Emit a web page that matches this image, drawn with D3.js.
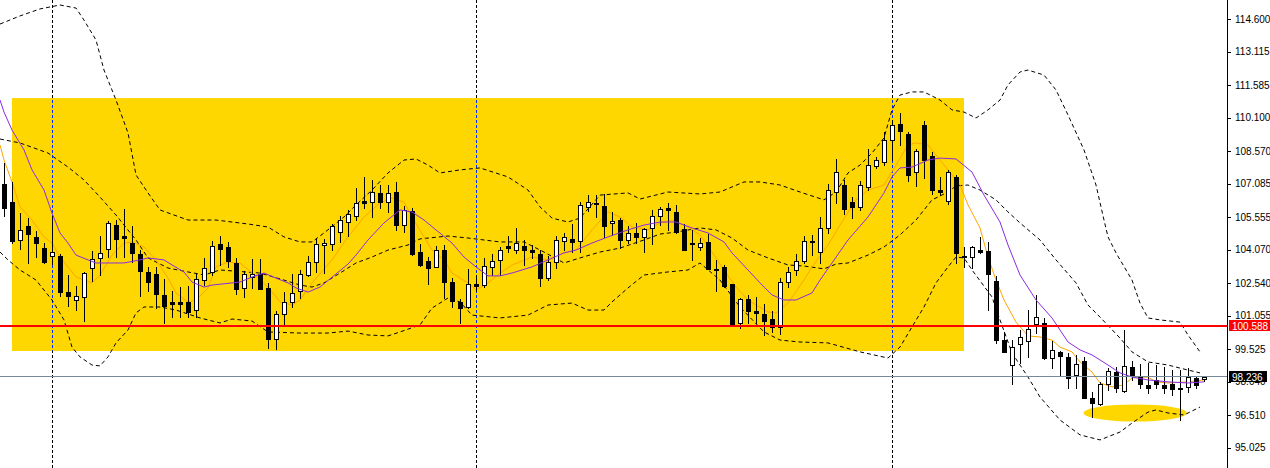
<!DOCTYPE html>
<html><head><meta charset="utf-8">
<script src="https://cdn.jsdelivr.net/npm/d3@7"></script>
<style>html,body{margin:0;padding:0;background:#fff;overflow:hidden}</style>
</head><body><svg id="c" width="1270" height="468"></svg>
<script>
// ---- candle data (index 0..150) ----
const openP = [107.07,106.24,104.51,105.15,104.65,104.14,103.78,103.78,102.13,101.77,
101.91,103.23,103.69,104.10,105.19,104.69,104.37,103.87,103.05,102.96,
102.00,101.68,101.68,101.68,101.31,102.68,103.05,104.33,104.19,103.46,
102.32,102.82,102.96,102.32,99.99,101.13,101.68,102.18,102.91,103.50,
104.28,104.33,104.87,105.33,105.60,106.29,106.24,106.66,106.24,106.70,
105.19,105.83,103.96,103.55,103.28,104.05,102.59,101.68,101.45,102.50,
102.45,103.28,103.60,104.24,104.05,104.24,104.05,103.87,102.77,103.50,
104.46,104.56,104.46,106.02,106.20,106.06,105.29,105.42,104.51,104.83,
104.65,105.06,105.60,105.97,105.79,105.01,104.37,104.19,104.42,103.19,
103.28,102.50,100.72,101.81,101.27,101.13,100.90,100.54,102.59,103.14,
103.55,104.46,103.96,105.06,106.70,107.02,106.24,106.02,106.93,107.89,
108.07,109.08,109.81,109.35,107.61,109.76,108.34,106.79,106.29,107.39,
103.78,103.73,104.05,104.01,102.64,99.94,98.80,99.76,99.90,100.67,
100.72,99.12,99.40,99.17,98.35,98.98,97.29,97.02,97.93,98.48,
97.61,98.71,98.25,97.89,98.12,97.89,97.93,97.75,97.80,98.21,
98.16];
const highP = [108.03,107.16,105.74,105.51,104.92,104.37,105.60,103.87,102.91,102.41,
103.05,104.01,104.69,105.38,105.42,105.92,105.15,104.05,103.28,103.28,
102.73,102.18,102.36,102.41,103.00,103.69,104.46,104.69,104.42,103.69,
103.09,103.64,103.64,102.55,101.27,102.13,102.96,103.14,103.78,104.56,
104.56,105.24,105.60,105.88,106.88,107.39,107.25,107.02,107.02,107.16,
106.06,105.97,104.33,103.73,104.24,104.28,102.77,101.81,103.19,102.91,
103.69,103.87,104.19,104.69,105.06,104.51,104.28,104.05,103.78,104.69,
104.83,105.24,106.24,106.56,106.56,106.61,105.79,105.51,105.15,105.29,
105.06,105.88,106.02,106.20,106.11,105.24,104.97,104.60,104.78,103.60,
103.37,102.50,101.86,102.00,101.91,101.59,101.27,102.77,103.28,103.87,
104.69,104.74,105.56,107.07,108.21,107.25,106.47,107.20,108.66,108.30,
109.44,109.99,110.31,109.44,108.66,109.94,108.53,107.39,107.71,107.48,
104.19,104.24,104.65,104.42,102.87,100.31,99.94,100.40,101.31,102.00,
100.95,99.90,99.44,99.35,99.26,99.17,97.57,98.03,98.66,98.71,
100.40,98.98,98.85,98.89,98.80,98.71,98.57,98.57,98.66,98.25,
98.25];
const lowP = [105.60,104.37,104.10,103.46,103.73,103.46,103.41,101.95,101.50,101.31,
100.81,102.64,102.91,103.73,103.73,103.73,103.50,101.95,102.18,101.40,
100.72,100.99,100.99,100.99,100.99,102.45,102.91,103.37,103.28,102.04,
101.91,102.32,102.27,99.58,99.53,100.63,101.45,101.86,102.87,103.05,
103.00,104.05,104.42,104.69,105.42,105.97,105.56,105.97,105.79,104.97,
104.87,103.82,103.32,102.50,103.28,101.86,101.45,100.72,101.40,102.18,
102.36,102.91,102.91,103.96,103.92,103.37,103.69,102.41,102.68,103.23,
104.05,103.96,103.96,105.83,105.56,104.65,104.74,104.14,104.37,104.37,
103.96,104.33,105.19,104.97,104.83,104.05,103.60,104.05,103.19,102.18,
102.36,100.67,100.49,100.72,100.72,100.17,100.31,100.22,102.36,102.91,
103.46,103.82,103.46,104.83,106.20,105.70,105.51,105.88,106.79,107.80,
107.93,108.16,108.85,107.20,106.98,107.34,106.61,106.56,106.15,103.46,
103.28,103.23,103.92,101.31,99.81,99.40,97.93,98.89,99.17,100.26,
99.08,98.66,98.35,97.75,97.75,97.29,96.43,96.97,97.66,97.57,
97.57,98.12,97.75,97.52,97.75,97.52,97.43,96.29,97.57,97.75,
98.07];
const closeP = [105.97,104.46,104.97,104.78,104.37,103.50,103.96,102.13,101.95,101.95,
103.00,103.64,103.92,105.29,104.56,104.60,103.92,103.09,102.59,102.04,
101.50,101.59,101.59,101.22,102.73,103.23,104.24,104.10,103.55,102.27,
102.96,102.96,102.27,99.99,101.13,101.68,102.09,102.96,103.50,104.33,
104.37,105.15,105.42,105.70,106.20,106.20,106.70,106.24,106.66,105.19,
105.88,103.87,103.37,103.23,104.05,102.59,101.72,101.40,102.50,102.41,
103.32,103.55,104.05,104.14,104.37,104.05,103.96,102.77,103.50,104.51,
104.65,104.42,106.11,106.24,106.15,105.15,105.38,104.51,104.83,104.65,
105.01,105.60,105.92,105.88,104.87,104.05,104.33,104.37,103.19,103.14,
102.41,100.67,101.81,101.27,101.18,100.81,100.54,102.59,103.05,103.55,
104.46,104.42,105.06,106.79,107.61,105.92,106.02,107.02,107.93,108.16,
109.08,109.76,109.49,107.48,108.57,108.16,106.79,106.70,107.61,103.92,
103.73,104.19,103.96,102.96,99.94,99.40,99.62,100.08,100.45,100.99,
99.12,99.49,99.21,98.21,98.85,97.29,97.07,97.93,98.53,97.75,
98.76,98.35,97.93,97.75,97.93,97.75,97.71,97.71,98.25,97.89,
98.24];

// ---- indicator lines, [bar index, price] ----
const bbUpper = [[-0.5,114.37],[2,114.74],[4.5,115.06],[7,115.24],[9,115.10],[10,114.55],[11.5,113.64],[12.5,112.27],[14,110.90],[15.5,109.40],[16.5,107.48],[18,106.66],[19.5,105.88],[23,105.42],[26.5,105.42],[30.5,105.24],[33,105.10],[35,104.65],[37,104.42],[38.5,104.42],[40,104.83],[42.5,105.56],[44,106.11],[46,106.79],[48,107.57],[50,108.16],[51.5,108.21],[53,107.93],[54.5,107.57],[57,107.71],[59.5,107.80],[63,107.39],[65.5,106.79],[67,106.02],[68.5,105.51],[70.5,105.33],[72,105.51],[74.5,106.56],[78,106.66],[79.5,106.38],[83,106.70],[87,106.61],[89.5,106.70],[92.5,107.16],[94.5,107.16],[97,107.02],[99.5,106.70],[102.5,106.34],[104,106.70],[105.5,107.57],[107,107.93],[108.5,108.48],[110,109.17],[111,110.45],[112,111.13],[113.5,111.27],[115,111.27],[117,110.90],[118.5,110.45],[120,110.35],[121.5,110.08],[123,110.45],[124.5,110.90],[125.5,111.59],[127,112.18],[128,112.27],[130,112.04],[131.5,111.36],[133,110.22],[135,108.62],[136.5,107.02],[137.5,105.42],[138,104.65],[139,103.92],[141,102.68],[142,101.63],[143,100.95],[144.5,100.86],[147,100.76],[148,100.17],[149.5,99.40]];
const bbMiddle = [[-0.5,109.12],[2,108.94],[5.5,108.48],[8,107.84],[10,107.25],[12,106.47],[14,105.65],[16.5,104.51],[18,103.69],[20.5,103.23],[23,103.05],[25,102.91],[27,103.14],[32,103.00],[35,102.68],[37,102.45],[38.5,102.36],[40,102.55],[42,103.00],[44,103.46],[46,103.73],[48,104.05],[50.5,104.28],[52,104.56],[55.5,104.69],[58,104.60],[62,104.42],[65,104.42],[67.5,103.96],[70,103.46],[72,103.69],[74.5,103.96],[77,104.14],[80,104.51],[82,104.78],[84,104.87],[87,105.06],[89,104.97],[91,104.60],[93,104.05],[95.5,103.69],[98,103.37],[100,103.32],[102.5,103.19],[104,103.41],[105.5,103.46],[108,103.82],[110,104.19],[112,104.74],[114,105.42],[116,106.34],[118,106.70],[119,106.98],[120.5,107.02],[122,106.79],[124,106.34],[125.5,105.79],[127,105.29],[129.5,104.51],[131.5,103.60],[134,102.55],[135.5,101.54],[137,100.99],[139.5,100.03],[141,99.40],[143,98.94],[145.5,98.80],[147,98.66],[149.5,98.44]];
const bbLower = [[-0.5,103.96],[0.5,103.60],[2,103.14],[4,102.68],[6,101.77],[7.5,100.86],[8.5,99.62],[9.5,99.17],[11,98.80],[12,98.76],[13,99.17],[14,99.81],[15.5,100.40],[16.5,101.18],[17.5,101.45],[19.5,101.45],[21.5,101.31],[24.5,100.95],[27,100.72],[28.5,100.90],[31,100.81],[33,100.31],[37,100.26],[40.5,100.26],[43,100.35],[45.5,100.17],[48,100.13],[49.5,100.31],[52,100.63],[53.5,101.40],[55.5,101.86],[57,101.68],[58.5,101.08],[62,100.95],[65.5,101.08],[68,101.54],[71,101.63],[73,101.31],[75,101.31],[76,101.68],[78,102.32],[80,102.91],[83,103.05],[85.5,103.14],[87,103.46],[89.5,102.68],[92,101.45],[95,100.31],[97,99.94],[99.5,99.85],[103,99.81],[107,99.40],[110.5,99.12],[112,99.62],[113.5,100.54],[115,101.45],[116.5,102.55],[118,103.28],[119,103.73],[120,103.69],[121,103.14],[123.5,101.91],[124.5,100.86],[126,99.35],[128,98.25],[129.5,97.34],[132,96.29],[134.5,95.61],[137,95.38],[139.5,95.74],[141,96.15],[143,96.65],[144,96.75],[145.5,96.61],[147.5,96.52],[149.5,96.88]];
const maFast = [[-0.5,108.85],[0,108.16],[1,107.16],[2,106.02],[3.5,105.42],[5,104.65],[6,104.37],[7,103.73],[8,103.28],[9,102.82],[11,102.55],[12,102.91],[13.5,103.82],[15,104.37],[16,104.42],[17.5,104.19],[19,103.60],[20.5,102.77],[21.5,102.09],[23,101.68],[24,101.77],[25.5,102.32],[26.5,103.28],[28,103.50],[29.5,103.46],[31,103.00],[33,102.36],[34.5,101.68],[36,101.54],[37,101.77],[38.5,102.55],[41,103.60],[43,104.65],[45,105.56],[47,106.20],[48.5,106.43],[50,106.24],[51,105.56],[52.5,104.65],[53.5,104.05],[55,103.60],[56,103.00],[58,102.55],[59,102.23],[60.5,102.55],[62,103.00],[63.5,103.37],[66,103.73],[68,103.60],[70,103.92],[71.5,104.05],[73.5,104.97],[75.5,105.79],[77,105.56],[78.5,105.10],[80.5,104.97],[82,105.29],[83.5,105.42],[85.5,105.10],[87,104.74],[88.5,103.96],[90,103.14],[91.5,102.36],[93,101.77],[95.5,101.22],[96.5,101.18],[98,101.63],[100,102.68],[101,103.28],[103,104.28],[104.5,105.19],[106.5,106.34],[108,106.79],[110,107.02],[111.5,107.93],[113,108.85],[114,108.94],[115.5,108.85],[116.5,108.39],[118,107.71],[119.5,107.02],[120.5,106.11],[122,105.06],[123,103.73],[124,102.68],[125,101.77],[126.5,100.76],[128,100.13],[129.5,100.08],[131,99.94],[132,99.62],[133.5,99.40],[134.5,98.94],[136,98.48],[137,97.98],[138.5,97.80],[140,97.89],[141,98.21],[143,98.25],[144,98.03],[145.5,97.98],[148,98.03],[150,98.12]];
const maSlow = [[-0.5,110.90],[0,110.35],[1,109.53],[2.5,108.62],[3.5,107.71],[5,106.79],[6,105.74],[7,104.83],[8,104.37],[9,103.82],[10.5,103.60],[11.5,103.46],[15,103.46],[17,103.60],[18,103.69],[20,103.60],[21,103.37],[22.5,103.05],[23.5,102.59],[25,102.36],[26,102.45],[29.5,102.59],[31,102.82],[32.5,103.00],[34,102.77],[35.5,102.55],[36.5,102.32],[38,102.13],[39.5,102.36],[41.5,102.96],[43,103.41],[44,103.82],[45.5,104.51],[47.5,105.29],[49.5,105.88],[51,105.79],[52.5,105.42],[54,104.97],[56,104.37],[57.5,103.73],[59,103.28],[60.5,102.87],[62,102.87],[63.5,103.00],[66,103.28],[68,103.60],[70,103.92],[71.5,104.05],[73.5,104.37],[75.5,104.65],[78,104.97],[80,105.19],[82,105.33],[84,105.33],[86,105.06],[88,104.83],[90,104.42],[91,103.92],[93,103.14],[94.5,102.55],[96,102.00],[97.5,101.77],[99,101.77],[101,102.09],[102,102.68],[103.5,103.46],[105.5,104.51],[108,105.56],[110,106.66],[111,107.39],[112,107.80],[113.5,107.84],[115.5,108.16],[117,108.25],[119,108.21],[121,107.61],[122.5,106.56],[124.5,105.33],[125.5,104.28],[127,102.91],[129,101.77],[131,100.95],[133,99.85],[134.5,99.49],[136,99.26],[138,98.80],[139.5,98.44],[141,98.25],[143,98.12],[145.5,98.03],[148,97.98],[150,98.03]];

// ---- axis & annotations ----
const tickLabels = ["114.600","113.115","111.585","110.100","108.570","107.085","105.555","104.070","102.540","101.055","99.525","98.040","96.510","95.025"];
const resistanceLevel = 100.588;
const lastPrice = 98.236;
const separatorBars = [6, 59, 111];
const zoneBars = [1, 120];
const zonePrices = [99.44, 110.99];
const markCenter = [141.4, 96.61];
const markHalf = [6.45, 0.39];

const svg = d3.select('#c');
const W = 1270, H = 468, plotRight = 1227;
const xs = d3.scaleLinear().domain([0,150]).range([4,1204]);
const ys = d3.scaleLinear().domain([95.025,114.6]).range([447.7,19]);

svg.append('rect').attr('width',W).attr('height',H).attr('fill','#fff');
svg.append('defs').append('clipPath').attr('id','plot').append('rect').attr('x',0).attr('y',0).attr('width',plotRight).attr('height',H);

const zx0 = xs(zoneBars[0]), zx1 = xs(zoneBars[1]);
const zy0 = ys(zonePrices[1]), zy1 = ys(zonePrices[0]);
svg.append('rect').attr('x',zx0).attr('y',zy0).attr('width',zx1-zx0).attr('height',zy1-zy0).attr('fill','#FFD700');
svg.select('defs').append('clipPath').attr('id','zone').append('rect').attr('x',zx0).attr('y',zy0).attr('width',zx1-zx0).attr('height',zy1-zy0);

const ecx = xs(markCenter[0]), ecy = ys(markCenter[1]);
svg.append('ellipse').attr('cx',ecx).attr('cy',ecy)
  .attr('rx', xs(markCenter[0]+markHalf[0]) - ecx)
  .attr('ry', ys(markCenter[1]-markHalf[1]) - ecy)
  .attr('fill','#FFD700');

// separators
const sepG = svg.append('g').attr('shape-rendering','crispEdges');
separatorBars.forEach(b => {
  const X = Math.round(xs(b)) + 0.5;
  sepG.append('line').attr('x1',X).attr('x2',X).attr('y1',0).attr('y2',H)
    .attr('stroke','#000').attr('stroke-dasharray','3,2');
  sepG.append('line').attr('x1',X).attr('x2',X).attr('y1',0).attr('y2',H)
    .attr('stroke','#0028ff').attr('stroke-dasharray','3,2').attr('clip-path','url(#zone)');
});

const lineGen = d3.line().x(d => xs(d[0])).y(d => ys(d[1]));
const gLines = svg.append('g').attr('clip-path','url(#plot)');
[bbUpper, bbMiddle, bbLower].forEach(s => {
  gLines.append('path').attr('d', lineGen(s)).attr('fill','none').attr('stroke','#000')
    .attr('stroke-width',1).attr('stroke-dasharray','4,3');
});

// candles
const cg = svg.append('g').attr('shape-rendering','crispEdges');
openP.forEach((o,i) => {
  const c = closeP[i], h = highP[i], l = lowP[i];
  const X = Math.round(xs(i));
  cg.append('line').attr('x1',X+0.5).attr('x2',X+0.5)
    .attr('y1',Math.round(ys(h))).attr('y2',Math.round(ys(l))+1).attr('stroke','#000');
  const top = Math.round(ys(Math.max(o,c))), bot = Math.round(ys(Math.min(o,c)));
  const bull = c >= o;
  cg.append('rect').attr('x',X-1.5).attr('y',top+0.5).attr('width',4).attr('height',Math.max(0,bot-top))
    .attr('fill', bull ? '#fff' : '#000').attr('stroke','#000');
});

gLines.append('path').attr('d', lineGen(maFast)).attr('fill','none').attr('stroke','#FFA500').attr('stroke-width',1);
svg.append('path').attr('clip-path','url(#plot)').attr('d', lineGen(maSlow)).attr('fill','none').attr('stroke','#8A2BE2').attr('stroke-width',1);

// horizontal levels
const ry = Math.round(ys(resistanceLevel));
svg.append('line').attr('x1',0).attr('x2',plotRight).attr('y1',ry).attr('y2',ry)
  .attr('stroke','#ff0000').attr('stroke-width',2).attr('shape-rendering','crispEdges');
const ly = Math.round(ys(lastPrice)) - 0.5;
svg.append('line').attr('x1',0).attr('x2',plotRight).attr('y1',ly).attr('y2',ly)
  .attr('stroke','#778899').attr('stroke-width',1).attr('shape-rendering','crispEdges');

// axis
const tickVals = tickLabels.map(Number);
const ax = svg.append('g').attr('transform',`translate(${plotRight},0)`)
  .call(d3.axisRight(ys).tickValues(tickVals).tickFormat((d,i) => tickLabels[i]).tickSize(4).tickPadding(4));
ax.select('.domain').remove();
ax.selectAll('line').attr('stroke','#000').attr('shape-rendering','crispEdges');
ax.selectAll('text').attr('font-family','Liberation Sans, Arial, sans-serif').attr('font-size','10px').attr('fill','#000');
svg.append('line').attr('x1',plotRight+0.5).attr('x2',plotRight+0.5).attr('y1',0).attr('y2',H)
  .attr('stroke','#000').attr('shape-rendering','crispEdges');

function priceTag(p, bg, w) {
  const yy = Math.round(ys(p));
  svg.append('rect').attr('x',plotRight+2).attr('y',yy-6).attr('width',w).attr('height',11).attr('fill',bg);
  svg.append('text').attr('x',plotRight+5).attr('y',yy).attr('dy','0.35em')
    .attr('font-family','Liberation Sans, Arial, sans-serif').attr('font-size','10px').attr('fill','#fff')
    .text(d3.format('.3f')(p));
}
priceTag(resistanceLevel, '#ff0000', 41);
priceTag(lastPrice, '#000', 38);
</script>
</body></html>
